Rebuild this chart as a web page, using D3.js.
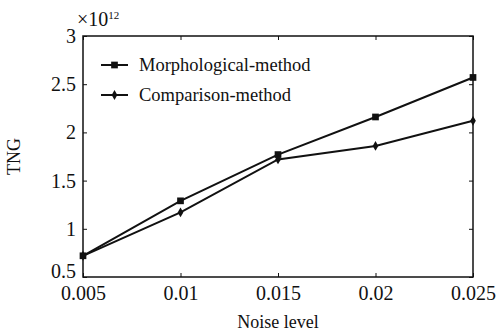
<!DOCTYPE html>
<meta charset="utf-8">
<style>
body { margin: 0; background: #fff; }
svg text { fill: #111; }
.axis path, .axis line { stroke: #111; }
</style>
<body>
<script src="https://cdn.jsdelivr.net/npm/d3@7"></script>
<script>
// data
var noise = [0.005, 0.01, 0.015, 0.02, 0.025];
var morph = [0.72, 1.29, 1.77, 2.16, 2.57];
var comp  = [0.72, 1.17, 1.72, 1.86, 2.12];
var xTicks = [0.005, 0.01, 0.015, 0.02, 0.025];
var yTicks = [0.5, 1, 1.5, 2, 2.5, 3];

var margin = {top: 36, right: 23, bottom: 57, left: 83},
    width = 496 - margin.left - margin.right,
    height = 334 - margin.top - margin.bottom;

var serif = "Liberation Serif, DejaVu Serif, serif";

var svg = d3.select("body").append("svg")
    .attr("width", 496).attr("height", 334)
  .append("g")
    .attr("transform", "translate(" + margin.left + "," + margin.top + ")");

var x = d3.scaleLinear().domain([0.005, 0.025]).range([0, width]);
var y = d3.scaleLinear().domain([0.5, 3]).range([height, 0]);

// box
svg.append("rect")
    .attr("width", width).attr("height", height)
    .attr("fill", "none").attr("stroke", "#111").attr("stroke-width", 1.5);

// axes (ticks inward)
svg.append("g").attr("class", "axis")
    .attr("transform", "translate(0," + height + ")")
    .call(d3.axisBottom(x).tickValues(xTicks).tickSizeInner(-4).tickSizeOuter(0)
      .tickPadding(9).tickFormat(d3.format("")))
    .attr("font-family", serif).attr("font-size", 20)
    .call(function(g) { g.select(".domain").remove(); });

svg.append("g").attr("class", "axis")
    .call(d3.axisLeft(y).tickValues(yTicks).tickSizeInner(-4).tickSizeOuter(0)
      .tickPadding(7).tickFormat(d3.format("")))
    .attr("font-family", serif).attr("font-size", 20)
    .call(function(g) { g.select(".domain").remove(); })
    .selectAll(".tick text")
      // lowest label sits a little higher, clear of the x labels
      .attr("dy", function(d) { return d === yTicks[0] ? "0.02em" : "0.32em"; });

// mirrored ticks top & right
svg.append("g").attr("class", "axis")
    .call(d3.axisTop(x).tickValues(xTicks).tickSizeInner(-4).tickSizeOuter(0).tickFormat(""))
    .call(function(g) { g.select(".domain").remove(); });
svg.append("g").attr("class", "axis")
    .attr("transform", "translate(" + width + ",0)")
    .call(d3.axisRight(y).tickValues(yTicks).tickSizeInner(-4).tickSizeOuter(0).tickFormat(""))
    .call(function(g) { g.select(".domain").remove(); });

// exponent label
var ex = svg.append("text").attr("x", -6).attr("y", -10).attr("font-size", 20).attr("font-family", serif);
ex.append("tspan").text("\u00d710");
ex.append("tspan").attr("font-size", 11).attr("dy", -7).text("12");

// axis titles
svg.append("text")
    .attr("x", width / 2).attr("y", height + 51)
    .attr("text-anchor", "middle").attr("font-size", 18).attr("font-family", serif)
    .text("Noise level");
svg.append("text")
    .attr("transform", "translate(-63," + (height / 2) + ") rotate(-90)")
    .attr("text-anchor", "middle").attr("font-size", 18).attr("font-family", serif)
    .text("TNG");

var line = d3.line()
    .x(function(d, i) { return x(noise[i]); })
    .y(function(d) { return y(d); });

var series = [
  {name: "Morphological-method", values: morph, shape: d3.symbolSquare, size: 45},
  {name: "Comparison-method", values: comp, shape: d3.symbolDiamond, size: 28}
];

series.forEach(function(s) {
  svg.append("path")
      .datum(s.values)
      .attr("fill", "none").attr("stroke", "#111").attr("stroke-width", 2)
      .attr("d", line);
  svg.selectAll(null)
      .data(s.values)
      .enter().append("path")
      .attr("transform", function(d, i) { return "translate(" + x(noise[i]) + "," + y(d) + ")"; })
      .attr("d", d3.symbol().type(s.shape).size(s.size))
      .attr("fill", "#111");
});

// legend
var legend = svg.selectAll(".legend")
    .data(series)
    .enter().append("g")
      .attr("transform", function(d, i) { return "translate(18," + (29 + i * 30) + ")"; });
legend.append("line")
    .attr("x1", 0).attr("x2", 27)
    .attr("stroke", "#111").attr("stroke-width", 2);
legend.append("path")
    .attr("transform", "translate(13.5,0)")
    .attr("d", function(d) { return d3.symbol().type(d.shape).size(d.size)(); })
    .attr("fill", "#111");
legend.append("text")
    .attr("x", 38).attr("dy", "0.35em").attr("font-size", 18.5).attr("font-family", serif)
    .text(function(d) { return d.name; });
</script>
</body>
